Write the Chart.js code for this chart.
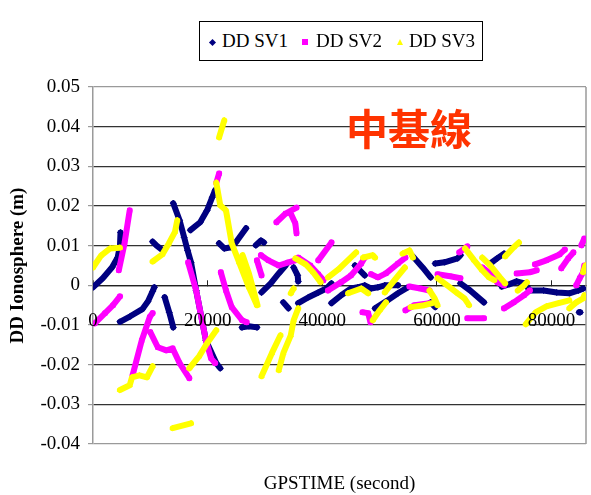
<!doctype html>
<html lang="zh-Hant">
  <head>
    <meta charset="utf-8">
    <title>DD Ionosphere</title>
    <style>
      * {
        margin: 0;
        padding: 0;
      }
      body {
        background: #fff;
      }
      .chartBox {
        position: relative;
        width: 591px;
        height: 495px;
      }
      .legendBox {
        position: absolute;
        left: 199px;
        top: 21px;
        width: 284px;
        height: 40px;
        box-sizing: border-box;
        border: 1px solid #000;
        background: #fff;
      }
      .legendBox span {
        position: absolute;
      }
      .legendText {
        top: 0;
        font: 19px 'Liberation Serif', serif;
        line-height: 38px;
        color: #000;
        white-space: nowrap;
      }
      .dia {
        left: 9.5px;
        top: 17.5px;
        width: 5px;
        height: 5px;
        background: #000080;
        transform: rotate(45deg);
      }
      .sq {
        left: 102px;
        top: 17px;
        width: 6px;
        height: 6px;
        background: #ff00ff;
      }
      .tri {
        left: 196.5px;
        top: 17px;
        width: 0;
        height: 0;
        border-left: 3.5px solid transparent;
        border-right: 3.5px solid transparent;
        border-bottom: 6px solid #ffff00;
      }
      .note {
        position: absolute;
        left: 346px;
        top: 106px;
        font: bold 42px 'Noto Sans CJK TC', sans-serif;
        line-height: 42px;
        color: #ff3300;
        white-space: nowrap;
      }
    </style>
  </head>
  <body>
    <div class="chartBox">
      <canvas id="myChart"></canvas>
      <div class="legendBox">
        <span class="dia"></span><span class="legendText" style="left:22px"></span>
        <span class="sq"></span><span class="legendText" style="left:116px"></span>
        <span class="tri"></span><span class="legendText" style="left:209px"></span>
      </div>
      <div class="note">中基線</div>
    </div>
    <script src="https://cdn.jsdelivr.net/npm/chart.js/dist/chart.umd.min.js"></script>
    <script>
    const seriesNames = ['DD SV1', 'DD SV2', 'DD SV3'];
    const seriesColors = ['#000080', '#ff00ff', '#ffff00'];
    const seriesMarkers = ['rectRot', 'rect', 'triangle'];

    const xTicks = [0, 20000, 40000, 60000, 80000];
    const xTickLabels = ['0', '20000', '40000', '60000', '80000'];
    const yTicks = [-0.04, -0.03, -0.02, -0.01, 0, 0.01, 0.02, 0.03, 0.04, 0.05];
    const yTickLabels = ['-0.04', '-0.03', '-0.02', '-0.01', '0', '0.01', '0.02', '0.03', '0.04', '0.05'];

    // each series = list of arcs, each arc = [GPSTIME, DD iono]
    const sv1 = [
      [[0,-0.0005],[1700,0.0018],[3300,0.0045],[4300,0.007],[4700,0.010],[4800,0.0133]],
      [[4700,-0.0092],[6500,-0.0078],[8600,-0.006],[9600,-0.004],[10400,-0.0015],[10700,-0.0005]],
      [[10400,0.011],[11100,0.010],[12000,0.009]],
      [[12500,-0.003],[13300,-0.0068],[14000,-0.0106]],
      [[14000,0.0207],[15100,0.0164],[15900,0.0121],[16500,0.0088],[17100,0.0058],[18000,-0.0013],[19700,-0.0139],[21500,-0.0196],[22200,-0.0209]],
      [[17000,0.0139],[18700,0.0159],[19900,0.0189],[20800,0.0222],[21300,0.024]],
      [[22000,0.0106],[22900,0.0093],[24100,0.0096],[24900,0.0108],[26700,0.0144]],
      [[28400,0.0101],[29300,0.0113],[29800,0.0108]],
      [[26000,-0.0106],[27200,-0.0103],[28600,-0.0106]],
      [[29400,-0.0018],[31000,0.0005],[32400,0.003],[33600,0.005],[33800,0.0055]],
      [[35000,0.0045],[35700,0.0025],[35800,0.001]],
      [[33200,-0.0043],[34100,-0.0058]],
      [[35800,-0.0045],[37600,-0.003],[39300,-0.0018],[40700,-0.0008],[41600,0.0005]],
      [[41600,-0.0045],[43300,-0.0025],[45000,-0.0008],[46200,-0.0005],[47400,0],[48500,-0.0008],[49700,-0.0005],[50900,0],[53200,0]],
      [[45700,0.005],[47400,0.0025]],
      [[49200,-0.0058],[51400,-0.0038],[53200,-0.002],[54900,-0.0005]],
      [[55800,0.0073],[57500,0.0045],[58900,0.002]],
      [[58900,-0.0043],[59700,-0.0055]],
      [[59700,0.0055],[61300,0.0058],[63600,0.0068],[64100,0.0076]],
      [[64100,0.0005],[65800,-0.0013],[68200,-0.0043]],
      [[69300,0.0055],[70500,0.0068],[71700,0.008]],
      [[71300,-0.0003],[72700,0.0003],[73900,0.001],[75300,0.0005],[76200,-0.0013],[78600,-0.0013],[80900,-0.0018],[83100,-0.002],[84700,-0.0013],[85500,-0.0008]],
      [[84800,-0.0068],[85000,-0.0068]]
    ];
    const sv2 = [
      [[300,-0.0096],[2100,-0.007],[3500,-0.005],[4700,-0.0028]],
      [[4500,0.0038],[5500,0.0106],[6400,0.0189]],
      [[6900,-0.0227],[8500,-0.0139],[9900,-0.008],[10400,-0.007]],
      [[10000,-0.0118],[11300,-0.0156],[12800,-0.0164],[13900,-0.0159],[15100,-0.0196],[16800,-0.0234]],
      [[16600,0.0058],[18000,-0.0013],[19700,-0.0139],[20600,-0.0184],[21300,-0.0196]],
      [[21500,0.0258],[22000,0.0282]],
      [[22300,0.0033],[23200,-0.0013],[24200,-0.0055],[26000,-0.0088],[26800,-0.0093]],
      [[28600,0.0063],[29400,0.0025]],
      [[29300,0.0076],[30600,0.0063],[32400,0.005],[34100,0.0058],[35300,0.0063]],
      [[32000,0.0159],[33600,0.0181],[35500,0.0196]],
      [[34500,0.0181],[35300,0.0156],[35500,0.0131]],
      [[35800,0.007],[37900,0.005],[39300,0.0028],[40200,0.0013]],
      [[39300,0.0063],[41600,0.0108]],
      [[41000,-0.0013],[43300,0.0008],[45000,0.0025],[46800,0.0055],[47400,0.007]],
      [[47000,-0.0068],[48000,-0.007],[48400,-0.0093]],
      [[48500,0.0028],[49700,0.002],[51100,0.003],[53200,0.0055],[54500,0.007]],
      [[54500,-0.0063],[56100,-0.005],[58700,-0.0045]],
      [[55200,-0.0003],[57100,-0.0008],[58700,-0.0013]],
      [[60100,0.0028],[62300,0.0023],[64100,0.0018]],
      [[63900,0.0083],[65300,0.0098]],
      [[65300,-0.0083],[68200,-0.0083]],
      [[67900,0.0045],[69300,0.003],[70500,0.0008],[71700,0]],
      [[71700,-0.0058],[73400,-0.0043],[75200,-0.0025],[76200,-0.0013]],
      [[73900,0.003],[76200,0.0033],[77400,0.0038]],
      [[77100,0.0053],[79100,0.0063],[81400,0.0078],[82300,0.009]],
      [[81700,0.0043],[82900,0.0068],[83800,0.0083]],
      [[84300,0],[84900,0.0018],[85500,0.0033],[85700,0.005]],
      [[85200,0.0101],[85700,0.0118]]
    ];
    const sv3 = [
      [[0,0.0045],[1400,0.0075],[3000,0.0093],[4700,0.0095]],
      [[10400,0.006],[12100,0.0078],[13200,0.0105],[14300,0.0135],[14700,0.0164]],
      [[4700,-0.0264],[6400,-0.0252],[6800,-0.0232],[8100,-0.0227],[9400,-0.0232],[10400,-0.0204]],
      [[13900,-0.036],[17100,-0.0348]],
      [[16800,-0.0209],[18500,-0.0179],[19900,-0.0146],[21500,-0.0113]],
      [[22000,0.0373],[22900,0.0416]],
      [[21500,0.0259],[22200,0.0202],[23200,0.0189],[24200,0.0106],[25500,0.0058],[27200,-0.0005],[28600,-0.005]],
      [[26100,0.0076],[27200,0.003],[28700,-0.005]],
      [[29400,-0.0229],[31200,-0.0171],[32700,-0.0126]],
      [[32400,-0.0214],[33200,-0.0171],[34500,-0.0126],[35000,-0.0088],[35800,-0.0058]],
      [[34500,-0.002],[35000,-0.0008]],
      [[35300,0.0068],[37100,0.0053],[38400,0.0033],[39700,0.0008]],
      [[41000,0.002],[42800,0.004],[45400,0.0076],[45900,0.0083]],
      [[47100,0.007],[48800,0.0076],[49200,0.007]],
      [[44500,-0.002],[46800,-0.0008],[48000,-0.002]],
      [[50900,-0.0018],[52600,0.0013],[54400,0.0045]],
      [[54000,0.008],[55200,0.0088],[55800,0.007]],
      [[48800,-0.0088],[50000,-0.0063],[51100,-0.0043]],
      [[55400,-0.0055],[57800,-0.005],[59200,-0.0045]],
      [[58700,-0.0013],[59600,-0.0033],[60100,-0.005]],
      [[60100,0.0018],[61800,0],[63600,-0.002],[64800,-0.0033],[65600,-0.005]],
      [[64900,0.0093],[66500,0.0063],[67900,0.0038],[69100,0.002],[70000,0.0013]],
      [[67900,0.007],[69300,0.005],[71000,0.002],[71900,0.0005]],
      [[71900,0.0073],[73400,0.0096],[74300,0.0108]],
      [[74100,-0.0013],[75200,0],[75700,0.0008]],
      [[75500,-0.0098],[77200,-0.0068],[79100,-0.0053],[81200,-0.0045],[83100,-0.0038]],
      [[83100,-0.0058],[84300,-0.0043],[85500,-0.0033],[85700,-0.0025]],
      [[85500,0.0033],[85900,0.005]]
    ];

    // arcs -> points, with an empty point between arcs so lines break
    function toPoints(arcs) {
      const pts = [];
      arcs.forEach(arc => {
        arc.forEach(p => pts.push({x: p[0], y: p[1]}));
        pts.push({x: null, y: null});
      });
      return pts;
    }

    document.querySelectorAll('.legendText').forEach((el, i) => {
      el.textContent = seriesNames[i];
    });

    const serif = 'Liberation Serif';
    const edgeGrey = '#9a9a9a';

    const datasets = [sv1, sv2, sv3].map((arcs, i) => ({
      label: seriesNames[i],
      data: toPoints(arcs),
      showLine: true,
      spanGaps: false,
      borderColor: seriesColors[i],
      backgroundColor: seriesColors[i],
      borderWidth: 6,
      borderCapStyle: 'round',
      borderJoinStyle: 'round',
      pointStyle: seriesMarkers[i],
      pointRadius: 3,
      pointBorderWidth: 1,
      xAxisID: 'x',
      yAxisID: 'y',
      order: 3 - i
    }));

    // right edge of the plot frame
    const frame = {
      id: 'frame',
      beforeDatasetsDraw(chart) {
        const {ctx, chartArea: a} = chart;
        ctx.save();
        ctx.strokeStyle = edgeGrey;
        ctx.lineWidth = 1.5;
        ctx.beginPath();
        ctx.moveTo(a.right, a.top);
        ctx.lineTo(a.right, a.bottom);
        ctx.stroke();
        ctx.restore();
      }
    };

    const config = {
      type: 'scatter',
      data: { datasets },
      options: {
        responsive: true,
        maintainAspectRatio: false,
        animation: false,
        events: [],
        layout: { padding: { top: 87, right: 2, bottom: 0, left: 0 } },
        plugins: {
          legend: { display: false },
          tooltip: { enabled: false }
        },
        scales: {
          x: {
            type: 'linear',
            position: { y: 0 },
            min: 0,
            max: 86000,
            grid: { drawOnChartArea: false, drawTicks: true, tickLength: -6, color: '#222', lineWidth: 1 },
            border: { color: '#222', width: 1.3 },
            afterBuildTicks: scale => {
              scale.ticks = xTicks.map(v => ({ value: v }));
            },
            afterFit: scale => {
              scale.paddingLeft = 0;
              scale.paddingRight = 0;
            },
            ticks: {
              autoSkip: false,
              maxRotation: 0,
              padding: 30,
              z: 1,
              color: '#000',
              font: { family: serif, size: 19 },
              callback: (value, index) => xTickLabels[index]
            }
          },
          xt: {
            type: 'linear',
            position: 'bottom',
            min: 0,
            max: 86000,
            ticks: { display: false },
            grid: { display: false },
            border: { display: false },
            title: {
              display: true,
              text: 'GPSTIME (second)',
              color: '#000',
              font: { family: serif, size: 19 },
              padding: { top: 0, bottom: 0 }
            },
            afterFit: scale => {
              scale.height = 51;
              scale.paddingLeft = 0;
              scale.paddingRight = 0;
            }
          },
          y: {
            min: -0.04,
            max: 0.05,
            grid: {
              color: c => (c.tick && (c.tick.value > 0.0499 || c.tick.value < -0.0399)) ? edgeGrey : '#333',
              lineWidth: 1.2,
              tickLength: 5,
              tickColor: edgeGrey
            },
            border: { color: edgeGrey, width: 1.5 },
            afterBuildTicks: scale => {
              scale.ticks = yTicks.map(v => ({ value: v }));
            },
            ticks: {
              padding: 8,
              color: '#000',
              font: { family: serif, size: 19 },
              callback: (value, index) => yTickLabels[index]
            },
            title: {
              display: true,
              text: 'DD Ionosphere (m)',
              color: '#000',
              font: { family: serif, size: 19, weight: 'bold' },
              padding: { top: 7, bottom: 0 }
            },
            afterFit: scale => { scale.width = 93; }
          }
        }
      },
      plugins: [frame]
    };

    const myChart = new Chart(document.getElementById('myChart'), config);
    </script>
  </body>
</html>
